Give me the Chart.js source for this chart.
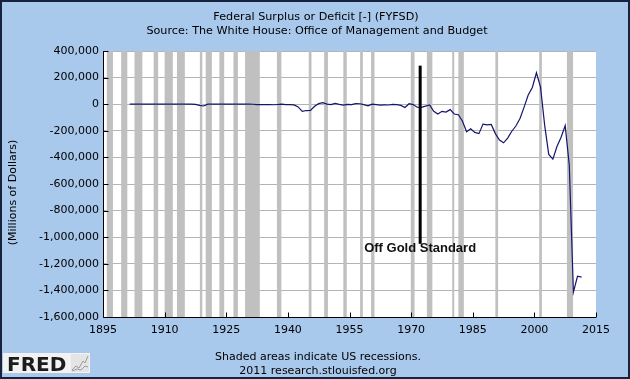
<!DOCTYPE html>
<html><head><meta charset="utf-8">
<script src="https://cdn.jsdelivr.net/npm/chart.js@4/dist/chart.umd.min.js"></script>
<style>html,body{margin:0;padding:0;background:#a8c8ec;}canvas{display:block;}</style>
</head><body>
<canvas id="c" width="630" height="379"></canvas>
<script>
// ---- data (millions of dollars, fiscal years) ----
const years = [1901,1902,1903,1904,1905,1906,1907,1908,1909,1910,
  1911,1912,1913,1914,1915,1916,1917,1918,1919,1920,
  1921,1922,1923,1924,1925,1926,1927,1928,1929,1930,
  1931,1932,1933,1934,1935,1936,1937,1938,1939,1940,
  1941,1942,1943,1944,1945,1946,1947,1948,1949,1950,
  1951,1952,1953,1954,1955,1956,1957,1958,1959,1960,
  1961,1962,1963,1964,1965,1966,1967,1968,1969,1970,
  1971,1972,1973,1974,1975,1976,1977,1978,1979,1980,
  1981,1982,1983,1984,1985,1986,1987,1988,1989,1990,
  1991,1992,1993,1994,1995,1996,1997,1998,1999,2000,
  2001,2002,2003,2004,2005,2006,2007,2008,2009,2010,2011];
const deficit = [63,77,45,-43,-23,25,87,-57,-89,-18,
  11,3,0,0,-63,48,-853,-9032,-13363,291,
  509,736,713,963,717,865,1155,939,734,738,
  -462,-2735,-2602,-3586,-2803,-4304,-2193,-89,-2846,-2920,
  -4941,-20503,-54554,-47557,-47553,-15936,4018,11796,580,-3119,
  6102,-1519,-6493,-1154,-2993,3947,3412,-2769,-12849,301,
  -3335,-7146,-4756,-5915,-1411,-3698,-8643,-25161,3242,-2842,
  -23033,-23373,-14908,-6135,-53242,-73732,-53659,-59185,-40726,-73830,
  -78968,-127977,-207802,-185367,-212308,-221227,-149730,-155178,-152639,-221036,
  -269238,-290321,-255051,-203186,-163952,-107431,-21884,69270,125610,236241,
  128236,-157758,-377585,-412727,-318346,-248181,-160701,-458553,-1412688,-1293489,-1299595];
const xTickValues = [1895,1910,1925,1940,1955,1970,1985,2000,2015];
const yTickValues = [400000,200000,0,-200000,-400000,-600000,-800000,-1000000,-1200000,-1400000,-1600000];
// NBER recessions (decimal years)
const recStart = [1895.92,1899.42,1902.67,1907.33,1910.0,1913.0,1918.58,1920.0,1923.33,1926.75,1929.58,1937.33,1945.08,1948.83,1953.5,1957.58,1960.25,1969.92,1973.83,1980.0,1981.5,1990.5,2001.17,2007.92];
const recEnd   = [1897.42,1900.92,1904.58,1908.42,1912.0,1914.92,1919.17,1921.5,1924.5,1927.83,1933.17,1938.42,1945.75,1949.75,1954.33,1958.25,1961.08,1970.83,1975.17,1980.5,1982.83,1991.17,2001.83,2009.42];
const titleLines = ['Federal Surplus or Deficit [-] (FYFSD)', 'Source: The White House: Office of Management and Budget'];
const yTitle = '(Millions of Dollars)';
const noteLines = ['Shaded areas indicate US recessions.', '2011 research.stlouisfed.org'];
const goldLabel = 'Off Gold Standard';
const goldYear = 1972.2, goldTop = 290000, goldBottom = -1050000;

const FONT = '"DejaVu Sans", Verdana, sans-serif';
const points = years.map((yr, i) => ({x: yr + 0.5, y: deficit[i]}));

const fredPlugin = {
  id: 'fred',
  beforeDraw(chart) {
    const {ctx, chartArea: a} = chart;
    ctx.save();
    ctx.fillStyle = '#a8c8ec';
    ctx.fillRect(0, 0, chart.width, chart.height);
    ctx.strokeStyle = '#17223d';
    ctx.lineWidth = 2;
    ctx.strokeRect(1, 1, chart.width - 2, chart.height - 2);
    ctx.fillStyle = '#ffffff';
    ctx.fillRect(a.left, a.top, a.right - a.left, a.bottom - a.top);
    ctx.restore();
  },
  beforeDatasetsDraw(chart) {
    const {ctx, chartArea: a, scales: {x}} = chart;
    ctx.save();
    ctx.beginPath();
    ctx.rect(a.left, a.top, a.right - a.left, a.bottom - a.top);
    ctx.clip();
    ctx.fillStyle = '#c0c0c0';
    recStart.forEach((s, i) => {
      const x0 = x.getPixelForValue(s), x1 = x.getPixelForValue(recEnd[i]);
      ctx.fillRect(x0, a.top, x1 - x0, a.bottom - a.top);
    });
    ctx.restore();
  },
  afterDatasetsDraw(chart) {
    const {ctx, chartArea: a, scales: {x, y}} = chart;
    ctx.save();
    ctx.strokeStyle = '#000';
    ctx.lineWidth = 1;
    ctx.beginPath();
    const L = Math.round(a.left) + 0.5, B = Math.round(a.bottom) + 0.5;
    ctx.moveTo(L, a.top); ctx.lineTo(L, B); ctx.lineTo(a.right, B);
    y.ticks.forEach(t => { const py = Math.round(y.getPixelForValue(t.value)) + 0.5; ctx.moveTo(L, py); ctx.lineTo(L + 5, py); });
    x.ticks.forEach(t => { const px = Math.round(x.getPixelForValue(t.value)) + 0.5; ctx.moveTo(px, B); ctx.lineTo(px, B - 5); });
    ctx.stroke();
    // gold standard annotation
    const gx = x.getPixelForValue(goldYear);
    const gb = y.getPixelForValue(goldBottom);
    ctx.lineWidth = 3;
    ctx.beginPath();
    ctx.moveTo(gx, y.getPixelForValue(goldTop));
    ctx.lineTo(gx, gb);
    ctx.stroke();
    ctx.font = 'bold 13px "Liberation Sans", Arial, sans-serif';
    ctx.fillStyle = '#111';
    ctx.textAlign = 'left';
    ctx.textBaseline = 'middle';
    ctx.fillText(goldLabel, gx - 56, gb + 4.5);
    ctx.restore();
  },
  afterDraw(chart) {
    const {ctx} = chart;
    ctx.save();
    ctx.fillStyle = '#000';
    ctx.font = '11.2px ' + FONT;
    ctx.textAlign = 'center';
    ctx.textBaseline = 'middle';
    ctx.fillText(titleLines[0], 316, 17);
    ctx.fillText(titleLines[1], 317, 31);
    ctx.font = '11px ' + FONT;
    ctx.fillText(noteLines[0], 318, 357.5);
    ctx.fillText(noteLines[1], 318, 371.5);
    ctx.save();
    ctx.translate(13, 192.5);
    ctx.rotate(-Math.PI / 2);
    ctx.fillText(yTitle, 0, 0);
    ctx.restore();
    // FRED logo
    ctx.fillStyle = '#f2f2f2';
    ctx.fillRect(3, 353, 87, 20);
    ctx.fillStyle = '#1c1c1c';
    ctx.font = 'bold 20px ' + FONT;
    ctx.textAlign = 'left';
    ctx.textBaseline = 'alphabetic';
    ctx.fillText('FRED', 7, 370.7);
    ctx.fillStyle = '#e4e4e4';
    ctx.fillRect(71, 354, 18, 18);
    ctx.strokeStyle = '#9a9a9a';
    ctx.lineWidth = 1;
    ctx.beginPath();
    ctx.moveTo(72, 370); ctx.lineTo(76, 366); ctx.lineTo(79, 368); ctx.lineTo(83, 361); ctx.lineTo(85, 363); ctx.lineTo(88, 356);
    ctx.moveTo(72, 371); ctx.lineTo(77, 369); ctx.lineTo(81, 370); ctx.lineTo(85, 366); ctx.lineTo(88, 367);
    ctx.stroke();
    ctx.restore();
  }
};

new Chart(document.getElementById('c'), {
  type: 'line',
  data: {
    datasets: [{
      data: points,
      borderColor: '#15156b',
      borderWidth: 1.2,
      pointRadius: 0,
      tension: 0,
      fill: false
    }]
  },
  options: {
    responsive: false,
    animation: false,
    devicePixelRatio: 1,
    layout: {padding: {left: 0, right: 34, top: 51, bottom: 0}},
    plugins: {legend: {display: false}, tooltip: {enabled: false}, title: {display: false}},
    scales: {
      x: {
        type: 'linear', min: 1895, max: 2015,
        afterBuildTicks: s => { s.ticks = xTickValues.map(v => ({value: v})); },
        afterFit: s => { s.height = 62; },
        grid: {display: false, drawTicks: false},
        border: {display: false},
        ticks: {font: {family: FONT, size: 11}, color: '#000', padding: 7, maxRotation: 0, autoSkip: false,
          callback: v => String(v)}
      },
      y: {
        type: 'linear', min: -1600000, max: 400000,
        afterBuildTicks: s => { s.ticks = yTickValues.map(v => ({value: v})); },
        afterFit: s => { s.width = 103; },
        grid: {color: '#b4b4b4', lineWidth: 1, drawTicks: false},
        border: {display: false},
        ticks: {font: {family: FONT, size: 11}, color: '#000', padding: 4, autoSkip: false,
          callback: v => v.toLocaleString('en-US')}
      }
    }
  },
  plugins: [fredPlugin]
});
</script>
</body></html>
